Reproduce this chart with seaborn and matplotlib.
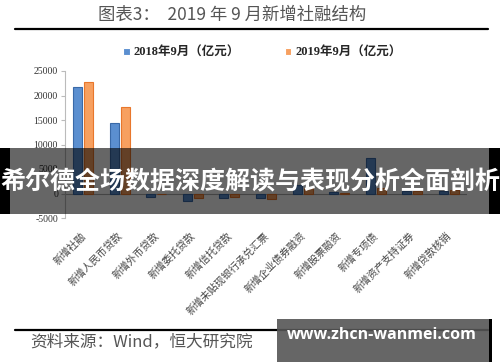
import matplotlib
matplotlib.use("Agg")
import matplotlib.pyplot as plt
import seaborn as sns
import pandas as pd
from matplotlib.patches import Rectangle
from matplotlib.lines import Line2D

categories = ["新增社融", "新增人民币贷款", "新增外币贷款", "新增委托贷款", "新增信托贷款",
              "新增未贴现银行承兑汇票", "新增企业债券融资", "新增股票融资", "新增专项债",
              "新增资产支持证券", "新增贷款核销"]
series_names = ["2018年9月（亿元）", "2019年9月（亿元）"]
values_2018 = [21700, 14300, -780, -1500, -900, -1000, 1700, 290, 7200, 500, 600]
values_2019 = [22700, 17700, -10, -900, -650, -1100, 1200, 200, 1100, 550, 800]
yticks = [-5000, 0, 5000, 10000, 15000, 20000, 25000]

df = pd.DataFrame({
    "cat": categories * 2,
    "year": [series_names[0]] * len(categories) + [series_names[1]] * len(categories),
    "val": values_2018 + values_2019,
})

sns.set_theme(style="white")
plt.rcParams["font.family"] = ["Noto Sans CJK SC", "DejaVu Sans"]

W, H = 500, 362
fig = plt.figure(figsize=(5, 3.62), dpi=100)
fig.patch.set_facecolor("white")

ax = fig.add_axes([65 / W, 1 - 218 / H, (467 - 65) / W, (218 - 71) / H])
blue_face, blue_edge = "#5b8fd0", "#3a6aa8"
orange_face, orange_edge = "#f7a060", "#e8772c"
sns.barplot(data=df, x="cat", y="val", hue="year", palette=[blue_face, orange_face],
            width=0.6, gap=0.18, ax=ax, legend=True, linewidth=0.8, saturation=1)
for cont, ec in zip(ax.containers, [blue_edge, orange_edge]):
    for p in cont:
        p.set_edgecolor(ec)

ax.set_ylim(-5000, 25000)
ax.set_xlim(-0.5, len(categories) - 0.5)
ax.set_yticks(yticks)
ax.set_yticklabels([str(v) for v in yticks], fontfamily="Liberation Serif", fontsize=7, color="#333333")
ax.axhline(0, color="#aaaaaa", lw=0.8, zorder=0.5)
for s in ["top", "right", "bottom"]:
    ax.spines[s].set_visible(False)
ax.spines["left"].set_color("#bbbbbb")
ax.spines["left"].set_linewidth(0.8)
ax.tick_params(axis="y", left=True, length=3, width=0.8, color="#bbbbbb", pad=2)
ax.tick_params(axis="x", bottom=False)
ax.set_xlabel("")
ax.set_ylabel("")
ax.set_xticks(range(len(categories)))
ax.set_xticklabels([])
for i, c in enumerate(categories):
    ax.annotate(c, xy=(i, -5000), xycoords="data", xytext=(-2, -9), textcoords="offset points",
                rotation=45, ha="right", va="top", rotation_mode="anchor",
                fontsize=7.3, color="#444444")

sns.move_legend(ax, "center", bbox_to_anchor=(262 / W, 1 - 53 / H), bbox_transform=fig.transFigure,
                ncol=2, frameon=False, title=None, handlelength=0.55, handleheight=0.55,
                columnspacing=3.6, handletextpad=0.3,
                prop={"family": ["Liberation Serif", "Noto Sans CJK SC"], "size": 9, "weight": "bold"})

# title and rules
fig.text(232 / W, 1 - 15 / H, "图表3：  2019 年 9 月新增社融结构", ha="center", va="center",
         fontsize=12.5, color="#555555")
fig.add_artist(Line2D([15 / W, 488 / W], [1 - 29 / H] * 2, color="black", lw=1.6))
fig.add_artist(Line2D([15 / W, 488 / W], [1 - 330 / H] * 2, color="black", lw=1.6))
fig.text(30 / W, 1 - 342 / H, "资料来源：Wind，恒大研究院", ha="left", va="center",
         fontsize=12, color="#555555", style="italic")

# banner overlay
fig.add_artist(Rectangle((0, 1 - 214 / H), 1, 66 / H, transform=fig.transFigure,
                         facecolor="black", alpha=0.6, edgecolor="none", zorder=10))
fig.add_artist(Rectangle((0, 1 - 214 / H), 10 / W, 66 / H, transform=fig.transFigure,
                         facecolor="black", edgecolor="none", zorder=11))
fig.add_artist(Rectangle((489 / W, 1 - 214 / H), 11 / W, 66 / H, transform=fig.transFigure,
                         facecolor="black", edgecolor="none", zorder=11))
fig.text(0.5, 1 - 182 / H, "希尔德全场数据深度解读与表现分析全面剖析", ha="center", va="center",
         fontsize=18, color="white", fontweight="bold", zorder=12)

# watermark box
fig.add_artist(Rectangle((277 / W, 0), (489 - 277) / W, (H - 319) / H, transform=fig.transFigure,
                         facecolor="#555555", alpha=0.9, edgecolor="none", zorder=10))
fig.add_artist(Rectangle((489 / W, 0), 3 / W, (H - 319) / H, transform=fig.transFigure,
                         facecolor="black", edgecolor="none", zorder=11))
fig.text(382 / W, 1 - 335 / H, "www.zhcn-wanmei.com", ha="center", va="center",
         fontsize=11.5, color="white", fontweight="bold", family="Open Sans", zorder=12)

fig.savefig("out.png", dpi=100)
